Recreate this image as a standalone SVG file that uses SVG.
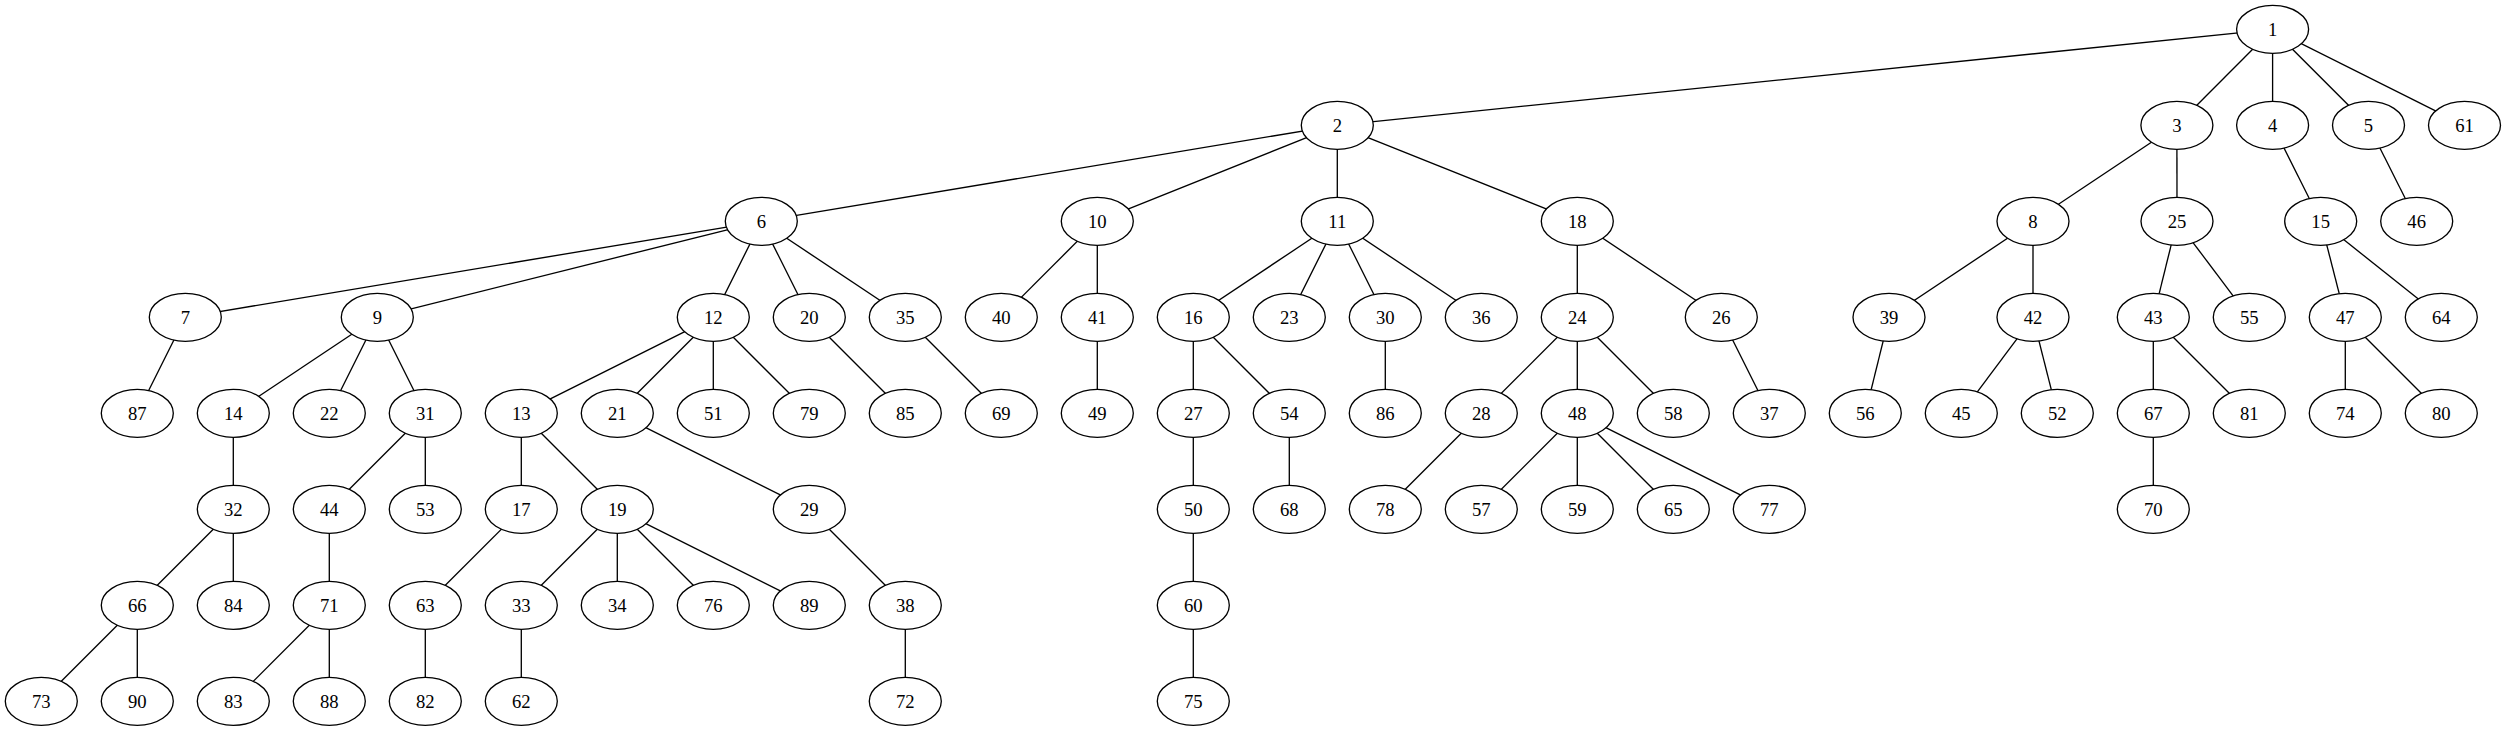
<svg xmlns="http://www.w3.org/2000/svg" width="2507" height="731" viewBox="0 0 2507 731">
<style>
.node ellipse{fill:#fff;stroke:#000;stroke-width:1.33}
.node text{font-family:"Liberation Serif","Times New Roman",serif;font-size:18.67px;text-anchor:middle;fill:#000}
#edges line{stroke:#000;stroke-width:1.33}
</style>
<rect width="2507" height="731" fill="#fff"/>
<g id="edges">
<line x1="2272.6" y1="29.3" x2="1337.3" y2="125.3"/>
<line x1="2272.6" y1="29.3" x2="2176.9" y2="125.3"/>
<line x1="2272.6" y1="29.3" x2="2272.6" y2="125.3"/>
<line x1="2272.6" y1="29.3" x2="2368.5" y2="125.3"/>
<line x1="2272.6" y1="29.3" x2="2464.5" y2="125.3"/>
<line x1="1337.3" y1="125.3" x2="761.3" y2="221.3"/>
<line x1="1337.3" y1="125.3" x2="1097.3" y2="221.3"/>
<line x1="1337.3" y1="125.3" x2="1337.3" y2="221.3"/>
<line x1="1337.3" y1="125.3" x2="1577.3" y2="221.3"/>
<line x1="2176.9" y1="125.3" x2="2033" y2="221.3"/>
<line x1="2176.9" y1="125.3" x2="2177" y2="221.3"/>
<line x1="2272.6" y1="125.3" x2="2320.7" y2="221.3"/>
<line x1="2368.5" y1="125.3" x2="2416.7" y2="221.3"/>
<line x1="761.3" y1="221.3" x2="185.3" y2="317.3"/>
<line x1="761.3" y1="221.3" x2="377.3" y2="317.3"/>
<line x1="761.3" y1="221.3" x2="713.3" y2="317.3"/>
<line x1="761.3" y1="221.3" x2="809.3" y2="317.3"/>
<line x1="761.3" y1="221.3" x2="905.3" y2="317.3"/>
<line x1="1097.3" y1="221.3" x2="1001.3" y2="317.3"/>
<line x1="1097.3" y1="221.3" x2="1097.3" y2="317.3"/>
<line x1="1337.3" y1="221.3" x2="1193.3" y2="317.3"/>
<line x1="1337.3" y1="221.3" x2="1289.3" y2="317.3"/>
<line x1="1337.3" y1="221.3" x2="1385.3" y2="317.3"/>
<line x1="1337.3" y1="221.3" x2="1481.3" y2="317.3"/>
<line x1="1577.3" y1="221.3" x2="1577.3" y2="317.3"/>
<line x1="1577.3" y1="221.3" x2="1721.3" y2="317.3"/>
<line x1="2033" y1="221.3" x2="1889" y2="317.3"/>
<line x1="2033" y1="221.3" x2="2033" y2="317.3"/>
<line x1="2177" y1="221.3" x2="2153.3" y2="317.3"/>
<line x1="2177" y1="221.3" x2="2249.3" y2="317.3"/>
<line x1="2320.7" y1="221.3" x2="2345.3" y2="317.3"/>
<line x1="2320.7" y1="221.3" x2="2441.3" y2="317.3"/>
<line x1="185.3" y1="317.3" x2="137.3" y2="413.3"/>
<line x1="377.3" y1="317.3" x2="233.3" y2="413.3"/>
<line x1="377.3" y1="317.3" x2="329.3" y2="413.3"/>
<line x1="377.3" y1="317.3" x2="425.3" y2="413.3"/>
<line x1="713.3" y1="317.3" x2="521.3" y2="413.3"/>
<line x1="713.3" y1="317.3" x2="617.3" y2="413.3"/>
<line x1="713.3" y1="317.3" x2="713.3" y2="413.3"/>
<line x1="713.3" y1="317.3" x2="809.3" y2="413.3"/>
<line x1="809.3" y1="317.3" x2="905.3" y2="413.3"/>
<line x1="905.3" y1="317.3" x2="1001.3" y2="413.3"/>
<line x1="1097.3" y1="317.3" x2="1097.3" y2="413.3"/>
<line x1="1193.3" y1="317.3" x2="1193.3" y2="413.3"/>
<line x1="1193.3" y1="317.3" x2="1289.3" y2="413.3"/>
<line x1="1385.3" y1="317.3" x2="1385.3" y2="413.3"/>
<line x1="1577.3" y1="317.3" x2="1481.3" y2="413.3"/>
<line x1="1577.3" y1="317.3" x2="1577.3" y2="413.3"/>
<line x1="1577.3" y1="317.3" x2="1673.3" y2="413.3"/>
<line x1="1721.3" y1="317.3" x2="1769.3" y2="413.3"/>
<line x1="1889" y1="317.3" x2="1865.3" y2="413.3"/>
<line x1="2033" y1="317.3" x2="1961.3" y2="413.3"/>
<line x1="2033" y1="317.3" x2="2057.3" y2="413.3"/>
<line x1="2153.3" y1="317.3" x2="2153.3" y2="413.3"/>
<line x1="2153.3" y1="317.3" x2="2249.3" y2="413.3"/>
<line x1="2345.3" y1="317.3" x2="2345.3" y2="413.3"/>
<line x1="2345.3" y1="317.3" x2="2441.3" y2="413.3"/>
<line x1="233.3" y1="413.3" x2="233.3" y2="509.3"/>
<line x1="425.3" y1="413.3" x2="329.3" y2="509.3"/>
<line x1="425.3" y1="413.3" x2="425.3" y2="509.3"/>
<line x1="521.3" y1="413.3" x2="521.3" y2="509.3"/>
<line x1="521.3" y1="413.3" x2="617.3" y2="509.3"/>
<line x1="617.3" y1="413.3" x2="809.3" y2="509.3"/>
<line x1="1193.3" y1="413.3" x2="1193.3" y2="509.3"/>
<line x1="1289.3" y1="413.3" x2="1289.3" y2="509.3"/>
<line x1="1481.3" y1="413.3" x2="1385.3" y2="509.3"/>
<line x1="1577.3" y1="413.3" x2="1481.3" y2="509.3"/>
<line x1="1577.3" y1="413.3" x2="1577.3" y2="509.3"/>
<line x1="1577.3" y1="413.3" x2="1673.3" y2="509.3"/>
<line x1="1577.3" y1="413.3" x2="1769.3" y2="509.3"/>
<line x1="2153.3" y1="413.3" x2="2153.3" y2="509.3"/>
<line x1="233.3" y1="509.3" x2="137.3" y2="605.3"/>
<line x1="233.3" y1="509.3" x2="233.3" y2="605.3"/>
<line x1="329.3" y1="509.3" x2="329.3" y2="605.3"/>
<line x1="521.3" y1="509.3" x2="425.3" y2="605.3"/>
<line x1="617.3" y1="509.3" x2="521.3" y2="605.3"/>
<line x1="617.3" y1="509.3" x2="617.3" y2="605.3"/>
<line x1="617.3" y1="509.3" x2="713.3" y2="605.3"/>
<line x1="617.3" y1="509.3" x2="809.3" y2="605.3"/>
<line x1="809.3" y1="509.3" x2="905.3" y2="605.3"/>
<line x1="1193.3" y1="509.3" x2="1193.3" y2="605.3"/>
<line x1="137.3" y1="605.3" x2="41.3" y2="701.3"/>
<line x1="137.3" y1="605.3" x2="137.3" y2="701.3"/>
<line x1="329.3" y1="605.3" x2="233.3" y2="701.3"/>
<line x1="329.3" y1="605.3" x2="329.3" y2="701.3"/>
<line x1="425.3" y1="605.3" x2="425.3" y2="701.3"/>
<line x1="521.3" y1="605.3" x2="521.3" y2="701.3"/>
<line x1="905.3" y1="605.3" x2="905.3" y2="701.3"/>
<line x1="1193.3" y1="605.3" x2="1193.3" y2="701.3"/>
</g>
<g id="nodes">
<g id="n1" class="node"><ellipse cx="2272.6" cy="29.3" rx="36" ry="24"/><text x="2272.6" y="35.6">1</text></g>
<g id="n2" class="node"><ellipse cx="1337.3" cy="125.3" rx="36" ry="24"/><text x="1337.3" y="131.6">2</text></g>
<g id="n3" class="node"><ellipse cx="2176.9" cy="125.3" rx="36" ry="24"/><text x="2176.9" y="131.6">3</text></g>
<g id="n4" class="node"><ellipse cx="2272.6" cy="125.3" rx="36" ry="24"/><text x="2272.6" y="131.6">4</text></g>
<g id="n5" class="node"><ellipse cx="2368.5" cy="125.3" rx="36" ry="24"/><text x="2368.5" y="131.6">5</text></g>
<g id="n61" class="node"><ellipse cx="2464.5" cy="125.3" rx="36" ry="24"/><text x="2464.5" y="131.6">61</text></g>
<g id="n6" class="node"><ellipse cx="761.3" cy="221.3" rx="36" ry="24"/><text x="761.3" y="227.6">6</text></g>
<g id="n10" class="node"><ellipse cx="1097.3" cy="221.3" rx="36" ry="24"/><text x="1097.3" y="227.6">10</text></g>
<g id="n11" class="node"><ellipse cx="1337.3" cy="221.3" rx="36" ry="24"/><text x="1337.3" y="227.6">11</text></g>
<g id="n18" class="node"><ellipse cx="1577.3" cy="221.3" rx="36" ry="24"/><text x="1577.3" y="227.6">18</text></g>
<g id="n8" class="node"><ellipse cx="2033" cy="221.3" rx="36" ry="24"/><text x="2033" y="227.6">8</text></g>
<g id="n25" class="node"><ellipse cx="2177" cy="221.3" rx="36" ry="24"/><text x="2177" y="227.6">25</text></g>
<g id="n15" class="node"><ellipse cx="2320.7" cy="221.3" rx="36" ry="24"/><text x="2320.7" y="227.6">15</text></g>
<g id="n46" class="node"><ellipse cx="2416.7" cy="221.3" rx="36" ry="24"/><text x="2416.7" y="227.6">46</text></g>
<g id="n7" class="node"><ellipse cx="185.3" cy="317.3" rx="36" ry="24"/><text x="185.3" y="323.6">7</text></g>
<g id="n9" class="node"><ellipse cx="377.3" cy="317.3" rx="36" ry="24"/><text x="377.3" y="323.6">9</text></g>
<g id="n12" class="node"><ellipse cx="713.3" cy="317.3" rx="36" ry="24"/><text x="713.3" y="323.6">12</text></g>
<g id="n20" class="node"><ellipse cx="809.3" cy="317.3" rx="36" ry="24"/><text x="809.3" y="323.6">20</text></g>
<g id="n35" class="node"><ellipse cx="905.3" cy="317.3" rx="36" ry="24"/><text x="905.3" y="323.6">35</text></g>
<g id="n40" class="node"><ellipse cx="1001.3" cy="317.3" rx="36" ry="24"/><text x="1001.3" y="323.6">40</text></g>
<g id="n41" class="node"><ellipse cx="1097.3" cy="317.3" rx="36" ry="24"/><text x="1097.3" y="323.6">41</text></g>
<g id="n16" class="node"><ellipse cx="1193.3" cy="317.3" rx="36" ry="24"/><text x="1193.3" y="323.6">16</text></g>
<g id="n23" class="node"><ellipse cx="1289.3" cy="317.3" rx="36" ry="24"/><text x="1289.3" y="323.6">23</text></g>
<g id="n30" class="node"><ellipse cx="1385.3" cy="317.3" rx="36" ry="24"/><text x="1385.3" y="323.6">30</text></g>
<g id="n36" class="node"><ellipse cx="1481.3" cy="317.3" rx="36" ry="24"/><text x="1481.3" y="323.6">36</text></g>
<g id="n24" class="node"><ellipse cx="1577.3" cy="317.3" rx="36" ry="24"/><text x="1577.3" y="323.6">24</text></g>
<g id="n26" class="node"><ellipse cx="1721.3" cy="317.3" rx="36" ry="24"/><text x="1721.3" y="323.6">26</text></g>
<g id="n39" class="node"><ellipse cx="1889" cy="317.3" rx="36" ry="24"/><text x="1889" y="323.6">39</text></g>
<g id="n42" class="node"><ellipse cx="2033" cy="317.3" rx="36" ry="24"/><text x="2033" y="323.6">42</text></g>
<g id="n43" class="node"><ellipse cx="2153.3" cy="317.3" rx="36" ry="24"/><text x="2153.3" y="323.6">43</text></g>
<g id="n55" class="node"><ellipse cx="2249.3" cy="317.3" rx="36" ry="24"/><text x="2249.3" y="323.6">55</text></g>
<g id="n47" class="node"><ellipse cx="2345.3" cy="317.3" rx="36" ry="24"/><text x="2345.3" y="323.6">47</text></g>
<g id="n64" class="node"><ellipse cx="2441.3" cy="317.3" rx="36" ry="24"/><text x="2441.3" y="323.6">64</text></g>
<g id="n87" class="node"><ellipse cx="137.3" cy="413.3" rx="36" ry="24"/><text x="137.3" y="419.6">87</text></g>
<g id="n14" class="node"><ellipse cx="233.3" cy="413.3" rx="36" ry="24"/><text x="233.3" y="419.6">14</text></g>
<g id="n22" class="node"><ellipse cx="329.3" cy="413.3" rx="36" ry="24"/><text x="329.3" y="419.6">22</text></g>
<g id="n31" class="node"><ellipse cx="425.3" cy="413.3" rx="36" ry="24"/><text x="425.3" y="419.6">31</text></g>
<g id="n13" class="node"><ellipse cx="521.3" cy="413.3" rx="36" ry="24"/><text x="521.3" y="419.6">13</text></g>
<g id="n21" class="node"><ellipse cx="617.3" cy="413.3" rx="36" ry="24"/><text x="617.3" y="419.6">21</text></g>
<g id="n51" class="node"><ellipse cx="713.3" cy="413.3" rx="36" ry="24"/><text x="713.3" y="419.6">51</text></g>
<g id="n79" class="node"><ellipse cx="809.3" cy="413.3" rx="36" ry="24"/><text x="809.3" y="419.6">79</text></g>
<g id="n85" class="node"><ellipse cx="905.3" cy="413.3" rx="36" ry="24"/><text x="905.3" y="419.6">85</text></g>
<g id="n69" class="node"><ellipse cx="1001.3" cy="413.3" rx="36" ry="24"/><text x="1001.3" y="419.6">69</text></g>
<g id="n49" class="node"><ellipse cx="1097.3" cy="413.3" rx="36" ry="24"/><text x="1097.3" y="419.6">49</text></g>
<g id="n27" class="node"><ellipse cx="1193.3" cy="413.3" rx="36" ry="24"/><text x="1193.3" y="419.6">27</text></g>
<g id="n54" class="node"><ellipse cx="1289.3" cy="413.3" rx="36" ry="24"/><text x="1289.3" y="419.6">54</text></g>
<g id="n86" class="node"><ellipse cx="1385.3" cy="413.3" rx="36" ry="24"/><text x="1385.3" y="419.6">86</text></g>
<g id="n28" class="node"><ellipse cx="1481.3" cy="413.3" rx="36" ry="24"/><text x="1481.3" y="419.6">28</text></g>
<g id="n48" class="node"><ellipse cx="1577.3" cy="413.3" rx="36" ry="24"/><text x="1577.3" y="419.6">48</text></g>
<g id="n58" class="node"><ellipse cx="1673.3" cy="413.3" rx="36" ry="24"/><text x="1673.3" y="419.6">58</text></g>
<g id="n37" class="node"><ellipse cx="1769.3" cy="413.3" rx="36" ry="24"/><text x="1769.3" y="419.6">37</text></g>
<g id="n56" class="node"><ellipse cx="1865.3" cy="413.3" rx="36" ry="24"/><text x="1865.3" y="419.6">56</text></g>
<g id="n45" class="node"><ellipse cx="1961.3" cy="413.3" rx="36" ry="24"/><text x="1961.3" y="419.6">45</text></g>
<g id="n52" class="node"><ellipse cx="2057.3" cy="413.3" rx="36" ry="24"/><text x="2057.3" y="419.6">52</text></g>
<g id="n67" class="node"><ellipse cx="2153.3" cy="413.3" rx="36" ry="24"/><text x="2153.3" y="419.6">67</text></g>
<g id="n81" class="node"><ellipse cx="2249.3" cy="413.3" rx="36" ry="24"/><text x="2249.3" y="419.6">81</text></g>
<g id="n74" class="node"><ellipse cx="2345.3" cy="413.3" rx="36" ry="24"/><text x="2345.3" y="419.6">74</text></g>
<g id="n80" class="node"><ellipse cx="2441.3" cy="413.3" rx="36" ry="24"/><text x="2441.3" y="419.6">80</text></g>
<g id="n32" class="node"><ellipse cx="233.3" cy="509.3" rx="36" ry="24"/><text x="233.3" y="515.6">32</text></g>
<g id="n44" class="node"><ellipse cx="329.3" cy="509.3" rx="36" ry="24"/><text x="329.3" y="515.6">44</text></g>
<g id="n53" class="node"><ellipse cx="425.3" cy="509.3" rx="36" ry="24"/><text x="425.3" y="515.6">53</text></g>
<g id="n17" class="node"><ellipse cx="521.3" cy="509.3" rx="36" ry="24"/><text x="521.3" y="515.6">17</text></g>
<g id="n19" class="node"><ellipse cx="617.3" cy="509.3" rx="36" ry="24"/><text x="617.3" y="515.6">19</text></g>
<g id="n29" class="node"><ellipse cx="809.3" cy="509.3" rx="36" ry="24"/><text x="809.3" y="515.6">29</text></g>
<g id="n50" class="node"><ellipse cx="1193.3" cy="509.3" rx="36" ry="24"/><text x="1193.3" y="515.6">50</text></g>
<g id="n68" class="node"><ellipse cx="1289.3" cy="509.3" rx="36" ry="24"/><text x="1289.3" y="515.6">68</text></g>
<g id="n78" class="node"><ellipse cx="1385.3" cy="509.3" rx="36" ry="24"/><text x="1385.3" y="515.6">78</text></g>
<g id="n57" class="node"><ellipse cx="1481.3" cy="509.3" rx="36" ry="24"/><text x="1481.3" y="515.6">57</text></g>
<g id="n59" class="node"><ellipse cx="1577.3" cy="509.3" rx="36" ry="24"/><text x="1577.3" y="515.6">59</text></g>
<g id="n65" class="node"><ellipse cx="1673.3" cy="509.3" rx="36" ry="24"/><text x="1673.3" y="515.6">65</text></g>
<g id="n77" class="node"><ellipse cx="1769.3" cy="509.3" rx="36" ry="24"/><text x="1769.3" y="515.6">77</text></g>
<g id="n70" class="node"><ellipse cx="2153.3" cy="509.3" rx="36" ry="24"/><text x="2153.3" y="515.6">70</text></g>
<g id="n66" class="node"><ellipse cx="137.3" cy="605.3" rx="36" ry="24"/><text x="137.3" y="611.6">66</text></g>
<g id="n84" class="node"><ellipse cx="233.3" cy="605.3" rx="36" ry="24"/><text x="233.3" y="611.6">84</text></g>
<g id="n71" class="node"><ellipse cx="329.3" cy="605.3" rx="36" ry="24"/><text x="329.3" y="611.6">71</text></g>
<g id="n63" class="node"><ellipse cx="425.3" cy="605.3" rx="36" ry="24"/><text x="425.3" y="611.6">63</text></g>
<g id="n33" class="node"><ellipse cx="521.3" cy="605.3" rx="36" ry="24"/><text x="521.3" y="611.6">33</text></g>
<g id="n34" class="node"><ellipse cx="617.3" cy="605.3" rx="36" ry="24"/><text x="617.3" y="611.6">34</text></g>
<g id="n76" class="node"><ellipse cx="713.3" cy="605.3" rx="36" ry="24"/><text x="713.3" y="611.6">76</text></g>
<g id="n89" class="node"><ellipse cx="809.3" cy="605.3" rx="36" ry="24"/><text x="809.3" y="611.6">89</text></g>
<g id="n38" class="node"><ellipse cx="905.3" cy="605.3" rx="36" ry="24"/><text x="905.3" y="611.6">38</text></g>
<g id="n60" class="node"><ellipse cx="1193.3" cy="605.3" rx="36" ry="24"/><text x="1193.3" y="611.6">60</text></g>
<g id="n73" class="node"><ellipse cx="41.3" cy="701.3" rx="36" ry="24"/><text x="41.3" y="707.6">73</text></g>
<g id="n90" class="node"><ellipse cx="137.3" cy="701.3" rx="36" ry="24"/><text x="137.3" y="707.6">90</text></g>
<g id="n83" class="node"><ellipse cx="233.3" cy="701.3" rx="36" ry="24"/><text x="233.3" y="707.6">83</text></g>
<g id="n88" class="node"><ellipse cx="329.3" cy="701.3" rx="36" ry="24"/><text x="329.3" y="707.6">88</text></g>
<g id="n82" class="node"><ellipse cx="425.3" cy="701.3" rx="36" ry="24"/><text x="425.3" y="707.6">82</text></g>
<g id="n62" class="node"><ellipse cx="521.3" cy="701.3" rx="36" ry="24"/><text x="521.3" y="707.6">62</text></g>
<g id="n72" class="node"><ellipse cx="905.3" cy="701.3" rx="36" ry="24"/><text x="905.3" y="707.6">72</text></g>
<g id="n75" class="node"><ellipse cx="1193.3" cy="701.3" rx="36" ry="24"/><text x="1193.3" y="707.6">75</text></g>
</g>
</svg>
